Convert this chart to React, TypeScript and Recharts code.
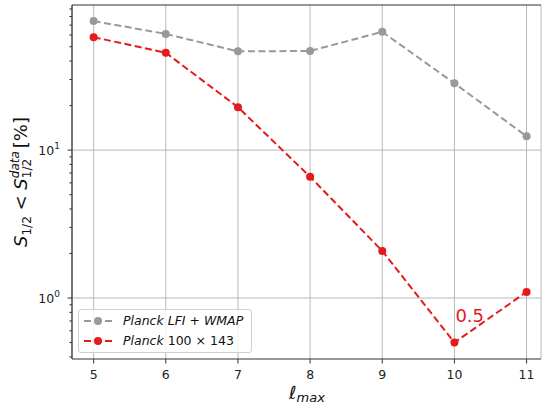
import React from 'react';
import { LineChart, Line, XAxis, YAxis, CartesianGrid, ReferenceLine } from 'recharts';

const lmax = [5, 6, 7, 8, 9, 10, 11];
const lfiWmap = [74.5, 61, 46.5, 46.8, 63, 28.3, 12.4];
const planck100x143 = [58, 45.5, 19.5, 6.6, 2.08, 0.5, 1.1];

const majorTicks = [1, 10];
const minorTicks = [0.4, 0.5, 0.6, 0.7, 0.8, 0.9, 2, 3, 4, 5, 6, 7, 8, 9, 20, 30, 40, 50, 60, 70, 80, 90];
const majorLabels = ['0', '1'];
const annotatedIndex = 5;
const annotationText = '0.5';

const yMin = 0.387;
const yMax = 95.7;

const data = lmax.map((l, i) => ({ l, gray: lfiWmap[i], red: planck100x143[i] }));

const GRAY = '#999999';
const RED = '#e41a1c';
const SPINE = '#333333';
const GRID = '#b8b8b8';
const FONT = '"DejaVu Sans", sans-serif';

const YTick = (props: any) => {
  const { x, y, payload } = props;
  const idx = majorTicks.indexOf(payload.value);
  const major = idx >= 0;
  const len = major ? 4.5 : 2.6;
  return (
    <g>
      <line x1={x - len} x2={x} y1={y} y2={y} stroke={SPINE} strokeWidth={1} />
      {major && (
        <text x={x - 12} y={y + 4.5} textAnchor="end" fontSize={12.5} fill="#222" fontFamily={FONT}>
          10
          <tspan fontSize={9} dy={-6}>{majorLabels[idx]}</tspan>
        </text>
      )}
    </g>
  );
};

const XTick = (props: any) => {
  const { x, y, payload } = props;
  return (
    <g>
      <line x1={x} x2={x} y1={y} y2={y + 4.5} stroke={SPINE} strokeWidth={1} />
      <text x={x} y={y + 20} textAnchor="middle" fontSize={12.5} fill="#222" fontFamily={FONT}>
        {payload.value}
      </text>
    </g>
  );
};

const Annotation = (props: any) => {
  const { x, y, index } = props;
  if (index !== annotatedIndex) return null;
  return (
    <text x={x + 1} y={y - 21} fontSize={18} fill={RED} fontFamily={FONT}>
      {annotationText}
    </text>
  );
};

const Sample = ({ color }: { color: string }) => (
  <svg width={30} height={12} style={{ display: 'block' }}>
    <line x1={1} x2={29} y1={6} y2={6} stroke={color} strokeWidth={2} strokeDasharray="7 3.5" />
    <circle cx={15} cy={6} r={4} fill={color} />
  </svg>
);

const LegendBox = () => (
  <div
    style={{
      position: 'absolute',
      left: 78,
      top: 309,
      border: '1px solid #d0d0d0',
      borderRadius: 3,
      background: 'rgba(255,255,255,0.8)',
      padding: '1px 8px 1px 4px',
      fontFamily: FONT,
      fontSize: 12.5,
      color: '#111',
      lineHeight: '20px',
    }}
  >
    <div style={{ display: 'flex', alignItems: 'center', gap: 10 }}>
      <Sample color={GRAY} />
      <span style={{ fontStyle: 'italic' }}>Planck LFI + WMAP</span>
    </div>
    <div style={{ display: 'flex', alignItems: 'center', gap: 10 }}>
      <Sample color={RED} />
      <span>
        <i>Planck</i> 100 × 143
      </span>
    </div>
  </div>
);

export default function App() {
  return (
    <div style={{ position: 'absolute', left: 0, top: 0, width: 542, height: 405, background: '#fff' }}>
      <LineChart width={542} height={405} data={data} margin={{ top: 5, right: 1, left: 0, bottom: 0 }}>
        <CartesianGrid horizontal={false} stroke={GRID} strokeWidth={1} />
        <ReferenceLine y={1} stroke={GRID} strokeWidth={1} />
        <ReferenceLine y={10} stroke={GRID} strokeWidth={1} />
        <ReferenceLine y={yMax} stroke={SPINE} strokeWidth={1.2} />
        <XAxis
          dataKey="l"
          type="number"
          domain={[4.7, 11.2]}
          ticks={lmax}
          allowDataOverflow
          height={46}
          tickSize={0}
          tickMargin={0}
          tick={<XTick />}
          axisLine={{ stroke: SPINE, strokeWidth: 1.2 }}
          tickLine={false}
        />
        <YAxis
          scale="log"
          type="number"
          domain={[yMin, yMax]}
          allowDataOverflow
          ticks={[...minorTicks, ...majorTicks].sort((a, b) => a - b)}
          width={72}
          tickSize={0}
          tickMargin={0}
          tick={<YTick />}
          axisLine={{ stroke: SPINE, strokeWidth: 1.2 }}
          tickLine={false}
          interval={0}
        />
        <Line
          dataKey="gray"
          stroke={GRAY}
          strokeWidth={2}
          strokeDasharray="7 3.5"
          dot={{ r: 4, fill: GRAY, stroke: 'none' }}
          isAnimationActive={false}
        />
        <Line
          dataKey="red"
          stroke={RED}
          strokeWidth={2}
          strokeDasharray="7 3.5"
          dot={{ r: 4, fill: RED, stroke: 'none' }}
          label={<Annotation />}
          isAnimationActive={false}
        />
      </LineChart>
      <LegendBox />
      <svg width={542} height={405} style={{ position: 'absolute', left: 0, top: 0, pointerEvents: 'none' }}>
        <g transform="translate(27,182) rotate(-90)">
          <text textAnchor="middle" fontFamily={FONT} fontSize={18} fill="#111">
            <tspan fontStyle="italic">S</tspan>
            <tspan fontSize={12} dy={4}>1/2</tspan>
            <tspan dy={-4}> {'<'} </tspan>
            <tspan fontStyle="italic">S</tspan>
            <tspan fontSize={12} dy={4}>1/2</tspan>
            <tspan fontSize={12} fontStyle="italic" dx={-19.3} dy={-12}>data</tspan>
            <tspan dx={3} dy={8}>[%]</tspan>
          </text>
        </g>
        <text x={307} y={399} textAnchor="middle" fontFamily={FONT} fontSize={18} fill="#111">
          <tspan fontStyle="italic">ℓ</tspan>
          <tspan fontSize={13} fontStyle="italic" dy={3}>max</tspan>
        </text>
      </svg>
    </div>
  );
}
